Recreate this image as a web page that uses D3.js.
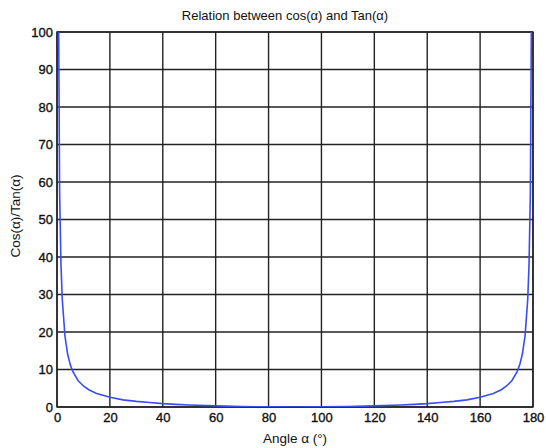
<!DOCTYPE html>
<meta charset="utf-8">
<head>
  <style>
    body { margin: 0; background: #fff; font-family: "Liberation Sans", Arial, sans-serif; }
    .tick text { font-size: 13px; fill: #111; stroke: #111; stroke-width: 0.35; }
    .grid line { stroke: #222; stroke-width: 1.4; }
    .title { font-size: 13px; fill: #111; }
    .label { font-size: 13.5px; fill: #111; }
  </style>
  <script src="https://cdn.jsdelivr.net/npm/d3@7"></script>
</head>
<body>
  <div id="viz"></div>
</body>
<script>
// angles (deg) and cos/tan values
var angles = [0, 0.5, 1, 1.5, 2, 3, 4, 5, 6, 8, 10, 12, 15, 20, 25, 30, 35, 40, 45, 50, 60, 70, 80, 90,
              100, 110, 120, 130, 135, 140, 145, 150, 155, 160, 165, 168, 170, 172, 174, 175, 176, 177, 178, 178.5, 179, 179.5, 180];
var values = [570, 115, 57, 38, 28.6, 19, 14.2, 11.3, 9.4, 7, 5.6, 4.6, 3.6, 2.6, 1.9, 1.5, 1.2, 0.9, 0.7, 0.54, 0.29, 0.12, 0.03, 0,
              0.03, 0.12, 0.29, 0.54, 0.7, 0.9, 1.2, 1.5, 1.9, 2.6, 3.6, 4.6, 5.6, 7, 9.4, 11.3, 14.2, 19, 28.6, 38, 57, 115, 570];
var xTicks = [0, 20, 40, 60, 80, 100, 120, 140, 160, 180];
var yTicks = [0, 10, 20, 30, 40, 50, 60, 70, 80, 90, 100];

var W = 546, H = 448;
var margin = {left: 57, right: 13, top: 32, bottom: 41};

var svg = d3.select("#viz").append("svg")
    .attr("width", W).attr("height", H);

var x = d3.scaleLinear().domain([0, 180]).range([margin.left, W - margin.right]);
var y = d3.scaleLinear().domain([0, 100]).range([H - margin.bottom, margin.top]);

/* grid */
svg.append("g").attr("class", "grid")
  .selectAll("line.v").data(xTicks).enter().append("line")
    .attr("x1", x).attr("x2", x)
    .attr("y1", y(0)).attr("y2", y(100));
svg.select(".grid")
  .selectAll("line.h").data(yTicks).enter().append("line")
    .attr("x1", x(0)).attr("x2", x(180))
    .attr("y1", y).attr("y2", y);

/* axes */
svg.append("g")
  .attr("transform", "translate(0," + y(0) + ")")
  .call(d3.axisBottom(x).tickValues(xTicks).tickSize(0).tickPadding(6))
  .call(function(g) { g.select(".domain").remove(); });

svg.append("g")
  .attr("transform", "translate(" + x(0) + ",0)")
  .call(d3.axisLeft(y).tickValues(yTicks).tickSize(0).tickPadding(4))
  .call(function(g) { g.select(".domain").remove(); });

/* box */
svg.append("rect")
  .attr("x", x(0)).attr("y", y(100))
  .attr("width", x(180) - x(0)).attr("height", y(0) - y(100))
  .attr("fill", "none").attr("stroke", "#222").attr("stroke-width", 1.4);

/* curve */
svg.append("clipPath").attr("id", "clip")
  .append("rect")
    .attr("x", x(0) - 1).attr("y", y(100))
    .attr("width", x(180) - x(0) + 2).attr("height", y(0) - y(100));

var line = d3.line()
  .x(function(d, i) { return x(angles[i]); })
  .y(function(d) { return y(d); });

svg.append("path")
  .datum(values)
  .attr("clip-path", "url(#clip)")
  .attr("fill", "none")
  .attr("stroke", "#3a4cf5")
  .attr("stroke-width", 1.6)
  .attr("d", line);

/* texts */
svg.append("text").attr("class", "title")
  .attr("x", (x(0) + x(180)) / 2 - 10).attr("y", 20)
  .attr("text-anchor", "middle")
  .text("Relation between cos(\u03b1) and Tan(\u03b1)");

svg.append("text").attr("class", "label")
  .attr("x", (x(0) + x(180)) / 2).attr("y", 443)
  .attr("text-anchor", "middle")
  .text("Angle \u03b1 (\u00b0)");

svg.append("text").attr("class", "label")
  .attr("transform", "translate(20," + 216 + ") rotate(-90)")
  .attr("text-anchor", "middle")
  .text("Cos(\u03b1)/Tan(\u03b1)");
</script>
